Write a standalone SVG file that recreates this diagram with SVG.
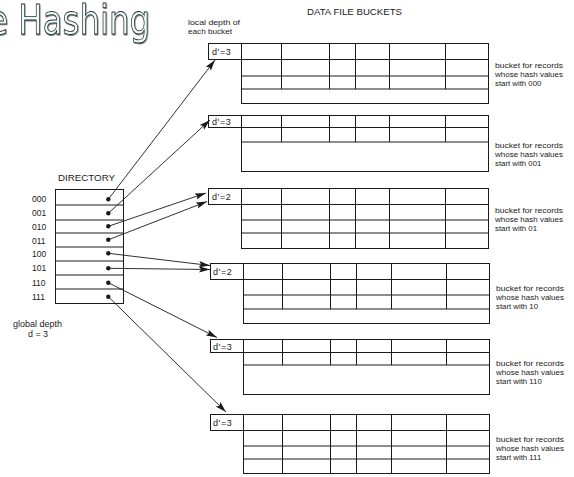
<svg xmlns="http://www.w3.org/2000/svg" width="574" height="477" viewBox="0 0 574 477">
<style>
text{font-family:"Liberation Sans",Arial,sans-serif;fill:#1a1a1a}
.t8{font-size:7.5px}
.lbl{font-size:7.8px}
.dir{font-size:8.5px}
.dp{font-size:9px;letter-spacing:0.6px}
.box{fill:none;stroke:#1a1a1a;stroke-width:1}
.ln{stroke:#1a1a1a;stroke-width:1;fill:none}
.arr{stroke:#1a1a1a;stroke-width:0.9;fill:none;marker-end:url(#ah)}
.dot{fill:#1a1a1a}
</style>
<defs>
<marker id="ah" markerUnits="userSpaceOnUse" markerWidth="12" markerHeight="8" viewBox="0 0 12 8" refX="11" refY="4" orient="auto">
<path d="M0,0.8 L11,4 L0,7.2 L2,4 Z" fill="#1a1a1a"/>
</marker>
<filter id="sh" x="-10%" y="-10%" width="120%" height="130%">
<feDropShadow dx="0.8" dy="1" stdDeviation="0.4" flood-color="#555" flood-opacity="0.8"/>
</filter>
</defs>
<rect width="574" height="477" fill="#ffffff"/>

<g id="title" transform="scale(0.79 1)">
<text x="-15" y="34" font-size="41" style="font-family:'DejaVu Sans',Verdana,sans-serif;fill:#e8fcfc;stroke:#2a2a2a;stroke-width:0.8" filter="url(#sh)">e Hashing</text>
</g>

<g id="headers">
<text x="307" y="15" font-size="9.5" textLength="95" lengthAdjust="spacingAndGlyphs">DATA FILE BUCKETS</text>
<text x="188" y="24.5" class="t8" textLength="52" lengthAdjust="spacingAndGlyphs">local depth of</text>
<text x="188" y="34" class="t8" textLength="44" lengthAdjust="spacingAndGlyphs">each bucket</text>
</g>

<g id="directory">
<text x="58" y="181" font-size="9.5" textLength="57" lengthAdjust="spacingAndGlyphs">DIRECTORY</text>
<rect class="box" x="55.5" y="189.5" width="68" height="114"/>
<path class="ln" d="M55.5,205H123.5M55.5,220H123.5M55.5,233H123.5M55.5,247H123.5M55.5,261H123.5M55.5,275H123.5M55.5,289H123.5"/>
<text class="dir" x="32" y="202">000</text>
<text class="dir" x="32" y="216">001</text>
<text class="dir" x="32" y="230">010</text>
<text class="dir" x="32" y="244">011</text>
<text class="dir" x="32" y="257">100</text>
<text class="dir" x="32" y="271">101</text>
<text class="dir" x="32" y="286">110</text>
<text class="dir" x="32" y="300">111</text>
<circle class="dot" cx="108.3" cy="199.3" r="2.2"/>
<circle class="dot" cx="108.3" cy="213.3" r="2.2"/>
<circle class="dot" cx="108.3" cy="226.3" r="2.2"/>
<circle class="dot" cx="108.3" cy="239.8" r="2.2"/>
<circle class="dot" cx="108.3" cy="253.3" r="2.2"/>
<circle class="dot" cx="108.3" cy="268.3" r="2.2"/>
<circle class="dot" cx="108.3" cy="282.7" r="2.2"/>
<circle class="dot" cx="108.3" cy="296.7" r="2.2"/>
<text x="13" y="327" font-size="8.5" textLength="49" lengthAdjust="spacingAndGlyphs">global depth</text>
<text x="28" y="337" font-size="8.5" textLength="20" lengthAdjust="spacingAndGlyphs">d = 3</text>
</g>

<g id="bucket-000">
<rect class="box" x="208.5" y="43.5" width="33" height="16"/>
<text class="dp" x="212" y="55">d'=3</text>
<rect class="box" x="241.5" y="43.5" width="247" height="60"/>
<path class="ln" d="M241.5,59.5H488.5M241.5,76H488.5M241.5,89H488.5M281.5,43.5V89M329.5,43.5V89M355.5,43.5V89M389.5,43.5V89M445.5,43.5V89"/>
<text class="lbl" x="495" y="67.5" textLength="68" lengthAdjust="spacingAndGlyphs">bucket for records</text>
<text class="lbl" x="495" y="76.5" textLength="68" lengthAdjust="spacingAndGlyphs">whose hash values</text>
<text class="lbl" x="495" y="85.5">start with 000</text>
</g>

<g id="bucket-001">
<rect class="box" x="208.5" y="115.5" width="33" height="12"/>
<text class="dp" x="212" y="125">d'=3</text>
<rect class="box" x="241.5" y="115.5" width="247" height="56"/>
<path class="ln" d="M241.5,127.5H488.5M241.5,142H488.5M281.5,115.5V142M329.5,115.5V142M355.5,115.5V142M389.5,115.5V142M445.5,115.5V142"/>
<text class="lbl" x="495" y="147.5" textLength="68" lengthAdjust="spacingAndGlyphs">bucket for records</text>
<text class="lbl" x="495" y="156.5" textLength="68" lengthAdjust="spacingAndGlyphs">whose hash values</text>
<text class="lbl" x="495" y="165.5">start with 001</text>
</g>

<g id="bucket-01">
<rect class="box" x="208.5" y="188.5" width="33" height="16"/>
<text class="dp" x="212" y="200">d'=2</text>
<rect class="box" x="241.5" y="188.5" width="247" height="60"/>
<path class="ln" d="M241.5,204.5H488.5M241.5,220H488.5M241.5,233H488.5M281.5,188.5V248.5M329.5,188.5V248.5M355.5,188.5V248.5M389.5,188.5V248.5M445.5,188.5V248.5"/>
<text class="lbl" x="495" y="212.5" textLength="68" lengthAdjust="spacingAndGlyphs">bucket for records</text>
<text class="lbl" x="495" y="221.5" textLength="68" lengthAdjust="spacingAndGlyphs">whose hash values</text>
<text class="lbl" x="495" y="230.5">start with 01</text>
</g>

<g id="bucket-10">
<rect class="box" x="210.5" y="263.5" width="33" height="16"/>
<text class="dp" x="213" y="275">d'=2</text>
<rect class="box" x="243.5" y="263.5" width="246" height="60"/>
<path class="ln" d="M243.5,279.5H489.5M243.5,295H489.5M243.5,309H489.5M282.5,263.5V309M330.5,263.5V309M356.5,263.5V309M391.5,263.5V309M446.5,263.5V309"/>
<text class="lbl" x="496" y="290.5" textLength="68" lengthAdjust="spacingAndGlyphs">bucket for records</text>
<text class="lbl" x="496" y="299.5" textLength="68" lengthAdjust="spacingAndGlyphs">whose hash values</text>
<text class="lbl" x="496" y="308.5">start with 10</text>
</g>

<g id="bucket-110">
<rect class="box" x="210.5" y="339.5" width="33" height="13"/>
<text class="dp" x="213" y="349.5">d'=3</text>
<rect class="box" x="243.5" y="339.5" width="246" height="55"/>
<path class="ln" d="M243.5,352.5H489.5M243.5,365H489.5M282.5,339.5V365M330.5,339.5V365M356.5,339.5V365M391.5,339.5V365M446.5,339.5V365"/>
<text class="lbl" x="496" y="365.5" textLength="68" lengthAdjust="spacingAndGlyphs">bucket for records</text>
<text class="lbl" x="496" y="374.5" textLength="68" lengthAdjust="spacingAndGlyphs">whose hash values</text>
<text class="lbl" x="496" y="383.5">start with 110</text>
</g>

<g id="bucket-111">
<rect class="box" x="210.5" y="414.5" width="33" height="16"/>
<text class="dp" x="213" y="426">d'=3</text>
<rect class="box" x="243.5" y="414.5" width="246" height="59"/>
<path class="ln" d="M243.5,430.5H489.5M243.5,446H489.5M243.5,459H489.5M282.5,414.5V473.5M330.5,414.5V473.5M356.5,414.5V473.5M391.5,414.5V473.5M446.5,414.5V473.5"/>
<text class="lbl" x="496" y="441.5" textLength="68" lengthAdjust="spacingAndGlyphs">bucket for records</text>
<text class="lbl" x="496" y="450.5" textLength="68" lengthAdjust="spacingAndGlyphs">whose hash values</text>
<text class="lbl" x="496" y="459.5">start with 111</text>
</g>

<g id="connectors">
<line class="arr" x1="108.3" y1="199.3" x2="215" y2="60"/>
<line class="arr" x1="108.3" y1="213.3" x2="210" y2="120"/>
<line class="arr" x1="108.3" y1="226.3" x2="206" y2="193"/>
<line class="arr" x1="108.3" y1="239.8" x2="207" y2="201.5"/>
<line class="arr" x1="108.3" y1="253.3" x2="210" y2="265.5"/>
<line class="arr" x1="108.3" y1="268.3" x2="210" y2="269.5"/>
<line class="arr" x1="108.3" y1="282.7" x2="217" y2="337.5"/>
<line class="arr" x1="108.3" y1="296.7" x2="226" y2="412"/>
</g>
</svg>
